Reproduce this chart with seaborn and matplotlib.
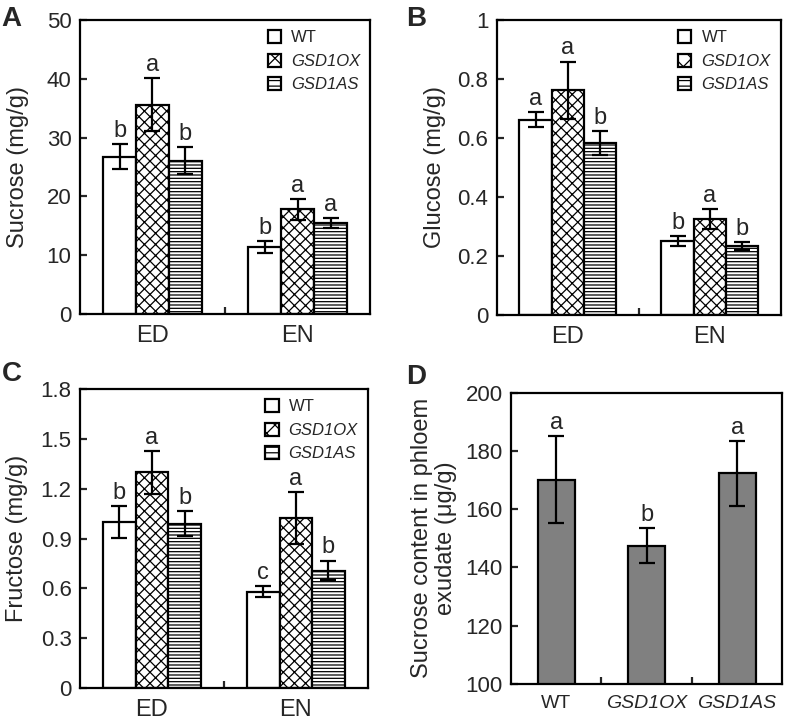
import numpy as np
import pandas as pd
import matplotlib
matplotlib.use("Agg")
import matplotlib.pyplot as plt
import seaborn as sns
from matplotlib.patches import Patch

sns.set_theme(style="white")
plt.rcParams['font.family'] = ['Liberation Sans', 'DejaVu Sans']
plt.rcParams['hatch.linewidth'] = 0.9
plt.rcParams['mathtext.default'] = 'regular'

groups = ["ED", "EN"]
genotypes = ["WT", "GSD1OX", "GSD1AS"]

sucrose_wt = [26.8, 11.4]
sucrose_ox = [35.6, 17.8]
sucrose_as = [26.1, 15.5]
sucrose_err_wt = [2.2, 1.0]
sucrose_err_ox = [4.5, 1.8]
sucrose_err_as = [2.3, 0.9]
sucrose_let_wt = ["b", "b"]
sucrose_let_ox = ["a", "a"]
sucrose_let_as = ["b", "a"]

glucose_wt = [0.662, 0.251]
glucose_ox = [0.762, 0.326]
glucose_as = [0.583, 0.234]
glucose_err_wt = [0.025, 0.017]
glucose_err_ox = [0.098, 0.034]
glucose_err_as = [0.040, 0.013]
glucose_let_wt = ["a", "b"]
glucose_let_ox = ["a", "a"]
glucose_let_as = ["b", "b"]

fructose_wt = [1.003, 0.580]
fructose_ox = [1.300, 1.025]
fructose_as = [0.989, 0.708]
fructose_err_wt = [0.096, 0.032]
fructose_err_ox = [0.130, 0.155]
fructose_err_as = [0.075, 0.060]
fructose_let_wt = ["b", "c"]
fructose_let_ox = ["a", "a"]
fructose_let_as = ["b", "b"]

phloem_mean = [170.1, 147.4, 172.4]
phloem_err = [15.0, 6.0, 11.2]
phloem_let = ["a", "b", "a"]

hatches = ["", "xxx", "-----"]
legend_hatches = ["", "xx", "---"]
LW = 1.6
FS = 16

fig = plt.figure(figsize=(7.91, 7.25), dpi=100)
axA = fig.add_axes([0.101, 0.567, 0.367, 0.405])
axB = fig.add_axes([0.628, 0.566, 0.359, 0.406])
axC = fig.add_axes([0.101, 0.051, 0.364, 0.412])
axD = fig.add_axes([0.646, 0.057, 0.343, 0.401])


def style_axes(ax):
    for s in ax.spines.values():
        s.set_linewidth(LW)
        s.set_color("black")
    ax.tick_params(axis="y", direction="in", length=5, width=LW, labelsize=FS, pad=6, left=True)
    ax.tick_params(axis="x", which="major", length=0, labelsize=FS + 1, pad=8)
    ax.tick_params(axis="x", which="minor", direction="in", length=5, width=LW, bottom=True)


def grouped(ax, means, errs, lets, ylim, yticks, ylabel, ticklabels, lpad):
    rows = []
    for g, m in zip(genotypes, means):
        for grp, v in zip(groups, m):
            rows.append({"group": grp, "genotype": g, "value": v})
    df = pd.DataFrame(rows)
    sns.barplot(data=df, x="group", y="value", hue="genotype", order=groups,
                hue_order=genotypes, palette=["white"] * 3, edgecolor="black",
                linewidth=LW, width=0.68, errorbar=None, legend=False, ax=ax)
    bar_conts = list(ax.containers)
    for i, cont in enumerate(bar_conts):
        for j, bar in enumerate(cont):
            bar.set_hatch(hatches[i])
            cx = bar.get_x() + bar.get_width() / 2
            top = bar.get_height()
            ax.errorbar(cx, top, yerr=errs[i][j], color="black", elinewidth=LW,
                        capsize=5.5, capthick=LW, fmt="none", zorder=5)
            ax.annotate(lets[i][j], (cx, top + errs[i][j]), xytext=(0, 1.5),
                        textcoords="offset points", ha="center", va="bottom",
                        fontsize=FS + 1)
    ax.set_ylim(*ylim)
    ax.set_yticks(yticks)
    ax.set_yticklabels(ticklabels)
    ax.set_xlim(-0.5, 1.5)
    ax.set_xticks([0.5], minor=True)
    ax.set_xlabel("")
    ax.set_ylabel(ylabel, fontsize=17, labelpad=lpad)
    handles = [Patch(facecolor="white", edgecolor="black", hatch=h, linewidth=LW)
               for h in legend_hatches]
    leg = ax.legend(handles, ["WT", "GSD1OX", "GSD1AS"], loc="upper right",
                    frameon=False, fontsize=12, handlelength=0.8, handleheight=0.8,
                    handletextpad=0.6, labelspacing=0.5, borderaxespad=0.2,
                    bbox_to_anchor=(1.0, 1.0))
    for t in leg.get_texts()[1:]:
        t.set_style("italic")
    style_axes(ax)


grouped(axA, [sucrose_wt, sucrose_ox, sucrose_as],
        [sucrose_err_wt, sucrose_err_ox, sucrose_err_as],
        [sucrose_let_wt, sucrose_let_ox, sucrose_let_as],
        (0, 50), [0, 10, 20, 30, 40, 50], "Sucrose (mg/g)",
        ["0", "10", "20", "30", "40", "50"], 13)
grouped(axB, [glucose_wt, glucose_ox, glucose_as],
        [glucose_err_wt, glucose_err_ox, glucose_err_as],
        [glucose_let_wt, glucose_let_ox, glucose_let_as],
        (0, 1), [0, 0.2, 0.4, 0.6, 0.8, 1.0], "Glucose (mg/g)",
        ["0", "0.2", "0.4", "0.6", "0.8", "1"], 8)
grouped(axC, [fructose_wt, fructose_ox, fructose_as],
        [fructose_err_wt, fructose_err_ox, fructose_err_as],
        [fructose_let_wt, fructose_let_ox, fructose_let_as],
        (0, 1.8), [0, 0.3, 0.6, 0.9, 1.2, 1.5, 1.8], "Fructose (mg/g)",
        ["0", "0.3", "0.6", "0.9", "1.2", "1.5", "1.8"], 9)

# Panel D
dfD = pd.DataFrame({"genotype": genotypes, "value": phloem_mean})
sns.barplot(data=dfD, x="genotype", y="value", order=genotypes, color="#808080",
            saturation=1, edgecolor="black", linewidth=LW, width=0.41,
            errorbar=None, ax=axD)
for j, bar in enumerate(list(axD.patches)):
    cx = bar.get_x() + bar.get_width() / 2
    top = bar.get_y() + bar.get_height()
    axD.errorbar(cx, top, yerr=phloem_err[j], color="black", elinewidth=LW,
                 capsize=5.5, capthick=LW, fmt="none", zorder=5)
    axD.annotate(phloem_let[j], (cx, top + phloem_err[j]), xytext=(0, 1.5),
                 textcoords="offset points", ha="center", va="bottom", fontsize=FS + 1)
axD.set_ylim(100, 200)
axD.set_yticks([100, 120, 140, 160, 180, 200])
axD.set_xlim(-0.5, 2.5)
axD.set_xticks([0.5, 1.5], minor=True)
axD.set_xlabel("")
axD.set_ylabel("Sucrose content in phloem\nexudate (\u03bcg/g)", fontsize=17,
               labelpad=6, linespacing=1.15)
style_axes(axD)
axD.tick_params(axis="x", which="major", labelsize=14)
for t in axD.get_xticklabels()[1:]:
    t.set_style("italic")

for lab, x, y in [("A", 0.002, 0.992), ("B", 0.514, 0.992), ("C", 0.002, 0.502), ("D", 0.513, 0.498)]:
    fig.text(x, y, lab, fontsize=20, fontweight="bold", ha="left", va="top")

fig.savefig("out.png", dpi=100)
